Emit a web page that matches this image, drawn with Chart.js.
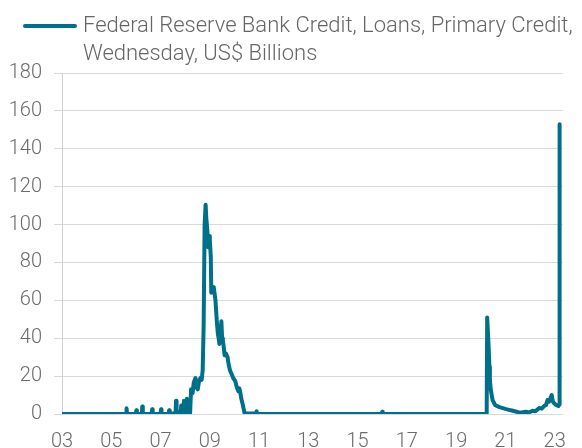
<!DOCTYPE html>
<html>
<head>
<meta charset="utf-8">
<script src="https://cdn.jsdelivr.net/npm/chart.js@4.4.0/dist/chart.umd.min.js"></script>
<style>
    html, body { margin: 0; padding: 0; background: #fff; overflow: hidden; }
    #wrap { position: relative; width: 582px; height: 452px; }
    #legend-line { position: absolute; left: 23px; top: 24px; width: 54px; height: 4px; background: #006f8a; border-radius: 2px; }
    #legend-text { position: absolute; left: 83px; top: 11px; font-family: Roboto, sans-serif; font-weight: 300; font-size: 22px; line-height: 27.5px; color: #666; white-space: nowrap; }
</style>
</head>
<body>
<div id="wrap">
    <canvas id="credit-chart" width="582" height="452"></canvas>
    <div id="legend-line"></div>
    <div id="legend-text">Federal Reserve Bank Credit, Loans, Primary Credit,<br>Wednesday, US$ Billions</div>
</div>
<script>
// weekly readings, x as decimal year
const weeks = [
    2003.00, 2005.60, 2005.62, 2005.64, 2006.00, 2006.02, 2006.04, 2006.24, 2006.26, 2006.28,
    2006.64, 2006.66, 2006.68, 2007.00, 2007.02, 2007.04, 2007.33, 2007.35, 2007.37, 2007.61,
    2007.63, 2007.65, 2007.82, 2007.84, 2007.86, 2007.93, 2007.95, 2007.97, 2008.05, 2008.07,
    2008.09, 2008.20, 2008.24, 2008.30, 2008.35, 2008.42, 2008.46, 2008.51, 2008.56, 2008.62,
    2008.67, 2008.71, 2008.75, 2008.79, 2008.83, 2008.86, 2008.90, 2008.94, 2008.97, 2009.00,
    2009.04, 2009.06, 2009.10, 2009.16, 2009.20, 2009.23, 2009.29, 2009.33, 2009.36, 2009.39,
    2009.45, 2009.47, 2009.50, 2009.53, 2009.56, 2009.60, 2009.65, 2009.72, 2009.76, 2009.82,
    2009.89, 2009.95, 2010.03, 2010.10, 2010.16, 2010.20, 2010.23, 2010.28, 2010.32, 2010.37,
    2010.41, 2010.50, 2010.88, 2010.90, 2010.92, 2015.98, 2016.00, 2016.02, 2020.24, 2020.26,
    2020.32, 2020.35, 2020.37, 2020.41, 2020.48, 2020.59, 2020.76, 2021.03, 2021.15, 2021.30,
    2021.45, 2021.56, 2021.70, 2021.83, 2021.95, 2022.10, 2022.22, 2022.37, 2022.47, 2022.57,
    2022.65, 2022.71, 2022.77, 2022.82, 2022.88, 2022.93, 2022.97, 2023.05, 2023.15, 2023.18,
    2023.20
];
const credit = [
    0, 0, 3, 0, 0, 2, 0, 0, 4, 0,
    0, 2.5, 0, 0, 2.5, 0, 0, 2, 0.3, 0.3,
    7, 1, 1, 4.5, 0.5, 0.5, 7, 1, 1, 8,
    1, 0.5, 13, 11, 16.6, 19, 14, 13, 17, 19,
    18, 23, 47, 100, 110.5, 103, 97, 88, 94, 92,
    83, 64, 66, 67, 63, 60, 48, 42, 40, 37,
    45, 49, 40, 38.6, 36, 31, 32, 30, 26.5, 23,
    21, 19, 17.5, 14, 12, 13.5, 12, 8, 6, 3,
    0.5, 0.2, 0.2, 1.5, 0.1, 0, 1.2, 0, 0, 51,
    35.5, 25, 18, 12.5, 7.3, 4.6, 3.6, 2.6, 2.2, 1.7,
    1.2, 0.7, 0.9, 1.2, 0.8, 1.7, 1.5, 3.2, 2.8, 4.2,
    4.8, 7.4, 6.5, 8, 10, 6.5, 5.8, 4.8, 4.2, 5,
    153
];
const yearTicks = [2003, 2005, 2007, 2009, 2011, 2013, 2015, 2017, 2019, 2021, 2023];

const tickFont = { family: "Roboto, sans-serif", size: 20, weight: 300 };
const tickColor = "#6b6b6b";

const ctx = document.getElementById("credit-chart");

const creditChart = new Chart(ctx, {
    type: 'line',
    data: {
        datasets: [{
            label: 'Federal Reserve Bank Credit, Loans, Primary Credit, Wednesday, US$ Billions',
            data: weeks.map((w, i) => ({ x: w, y: credit[i] })),
            borderColor: '#006f8a',
            borderWidth: 4,
            pointRadius: 0,
            tension: 0,
            borderJoinStyle: 'round',
            borderCapStyle: 'round',
            fill: false
        }]
    },
    options: {
        responsive: false,
        animation: false,
        layout: {
            padding: { top: 73, left: 8, right: 15, bottom: 0 }
        },
        plugins: {
            legend: { display: false },
            tooltip: { enabled: false }
        },
        scales: {
            x: {
                type: 'linear',
                min: 2003,
                max: 2023.32,
                afterBuildTicks: scale => {
                    scale.ticks = yearTicks.map(v => ({ value: v }));
                },
                afterFit: scale => { scale.height = 38; },
                ticks: {
                    callback: v => String(v).slice(2),
                    font: tickFont,
                    color: tickColor,
                    padding: 16,
                    maxRotation: 0,
                    autoSkip: false
                },
                grid: { display: false, drawTicks: false },
                border: { display: false }
            },
            y: {
                min: 0,
                max: 180,
                afterFit: scale => { scale.width = 54; },
                ticks: {
                    stepSize: 20,
                    font: tickFont,
                    color: tickColor,
                    padding: 12
                },
                grid: {
                    color: '#d9d9d9',
                    tickLength: 8,
                    tickColor: '#d9d9d9'
                },
                border: { color: '#d0d0d0' }
            }
        }
    }
});
</script>
</body>
</html>
